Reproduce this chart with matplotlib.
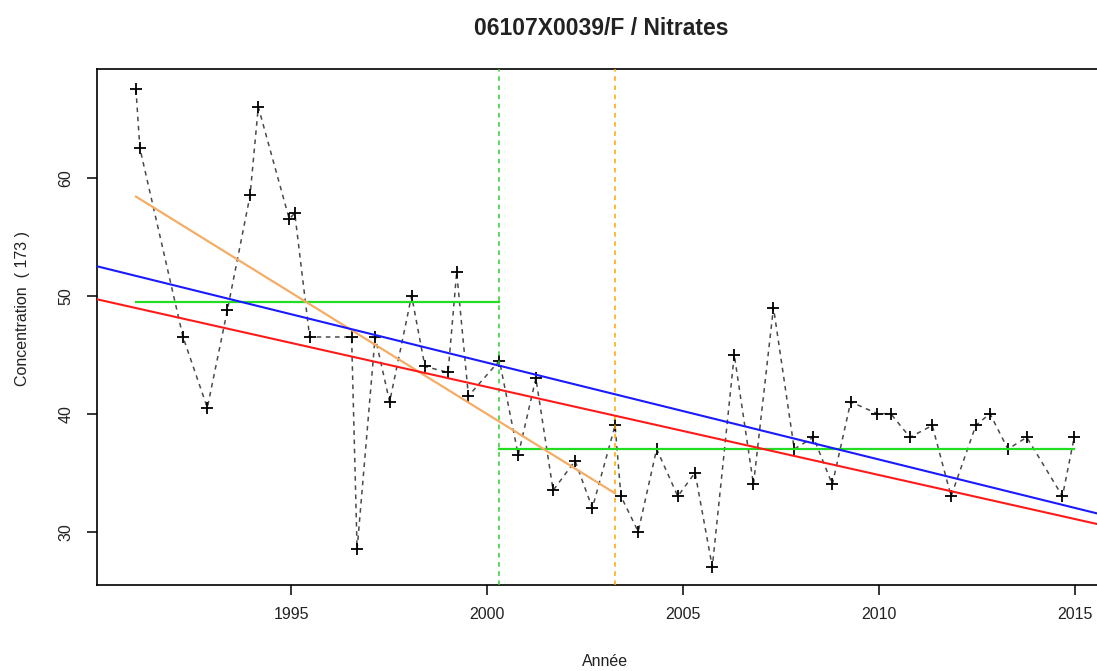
import matplotlib
matplotlib.use("Agg")
import matplotlib.pyplot as plt

plt.rcParams['font.family'] = ['Liberation Sans', 'DejaVu Sans']

annees = [1991.04, 1991.14, 1992.24, 1992.86, 1993.37, 1993.95, 1994.16, 1994.95,
          1995.09, 1995.47, 1996.54, 1996.68, 1997.14, 1997.51, 1998.07, 1998.41,
          1999.00, 1999.22, 1999.52, 2000.31, 2000.79, 2001.24, 2001.68, 2002.24,
          2002.68, 2003.26, 2003.41, 2003.85, 2004.32, 2004.86, 2005.30, 2005.74,
          2006.30, 2006.79, 2007.30, 2007.83, 2008.32, 2008.80, 2009.27, 2009.95,
          2010.29, 2010.78, 2011.35, 2011.83, 2012.46, 2012.82, 2013.28, 2013.76,
          2014.67, 2014.97]
concentrations = [67.5, 62.5, 46.5, 40.5, 48.75, 58.5, 66.0, 56.5,
                  57.0, 46.5, 46.5, 28.5, 46.5, 41.0, 50.0, 44.0,
                  43.5, 52.0, 41.5, 44.5, 36.5, 43.0, 33.5, 36.0,
                  32.0, 39.0, 33.0, 30.0, 37.0, 33.0, 35.0, 27.0,
                  45.0, 34.0, 49.0, 37.0, 38.0, 34.0, 41.0, 40.0,
                  40.0, 38.0, 39.0, 33.0, 39.0, 40.0, 37.0, 38.0,
                  33.0, 38.0]

# trend lines (end points)
reg_bleue_x = [1990.04, 2015.55]
reg_bleue_y = [52.5, 31.55]
reg_rouge_x = [1990.04, 2015.55]
reg_rouge_y = [49.7, 30.65]
reg_orange_x = [1991.04, 2003.26]
reg_orange_y = [58.4, 33.25]

# means before / after the break
moy_avant_x = [1991.04, 2000.31]
moy_avant = 49.5
moy_apres_x = [2000.31, 2014.97]
moy_apres = 37.0

rupture_verte = 2000.31
rupture_orange = 2003.26

x_ticks = [1995, 2000, 2005, 2010, 2015]
y_ticks = [30, 40, 50, 60]

fig = plt.figure(figsize=(10.97, 6.71), dpi=100)
ax = fig.add_axes([0.0882, 0.1282, 0.9264, 0.7685])

ax.plot(annees, concentrations, color='#4a4a4a', linestyle=(0, (3, 3)), linewidth=1.1,
        marker='+', markersize=9, markeredgewidth=1.3, markeredgecolor='black', zorder=2)

ax.axvline(rupture_verte, color='#33cc33', linestyle=(0, (3, 3)), linewidth=1.1, zorder=3)
ax.axvline(rupture_orange, color='#ffa500', linestyle=(0, (3, 3)), linewidth=1.1, zorder=3)

ax.plot(moy_avant_x, [moy_avant, moy_avant], color='#22dd22', linewidth=1.6, zorder=3)
ax.plot(moy_apres_x, [moy_apres, moy_apres], color='#22dd22', linewidth=1.6, zorder=3)

ax.plot(reg_orange_x, reg_orange_y, color='#f5ad66', linewidth=1.6, zorder=4)
ax.axline((reg_bleue_x[0], reg_bleue_y[0]), (reg_bleue_x[1], reg_bleue_y[1]),
          color='#1a1aff', linewidth=1.5, zorder=4)
ax.axline((reg_rouge_x[0], reg_rouge_y[0]), (reg_rouge_x[1], reg_rouge_y[1]),
          color='#ff1a1a', linewidth=1.5, zorder=4)

ax.set_xlim(1990.04, 2015.96)
ax.set_ylim(25.48, 69.19)
ax.set_xticks(x_ticks)
ax.set_yticks(y_ticks)
ax.set_xticklabels([str(t) for t in x_ticks])
ax.set_yticklabels([str(t) for t in y_ticks], rotation=90, va='center')
ax.tick_params(axis='both', length=7, width=1.1, labelsize=11.5, colors='black',
               labelcolor='#222222')
ax.tick_params(axis='x', pad=9)
ax.tick_params(axis='y', pad=10)
for s in ax.spines.values():
    s.set_linewidth(1.2)

fig.text(0.548, 0.957, '06107X0039/F / Nitrates', ha='center', va='center',
         fontsize=16.5, fontweight='bold', color='#222222')
fig.text(0.5514, 1 - 662 / 671, 'Année', ha='center', va='center', fontsize=11.5,
         color='#222222')
fig.text(23 / 1097, 1 - 309 / 671, 'Concentration  ( 173 )', ha='center', va='center',
         rotation=90, fontsize=11.5, color='#222222')

fig.savefig('out.png', dpi=100)
